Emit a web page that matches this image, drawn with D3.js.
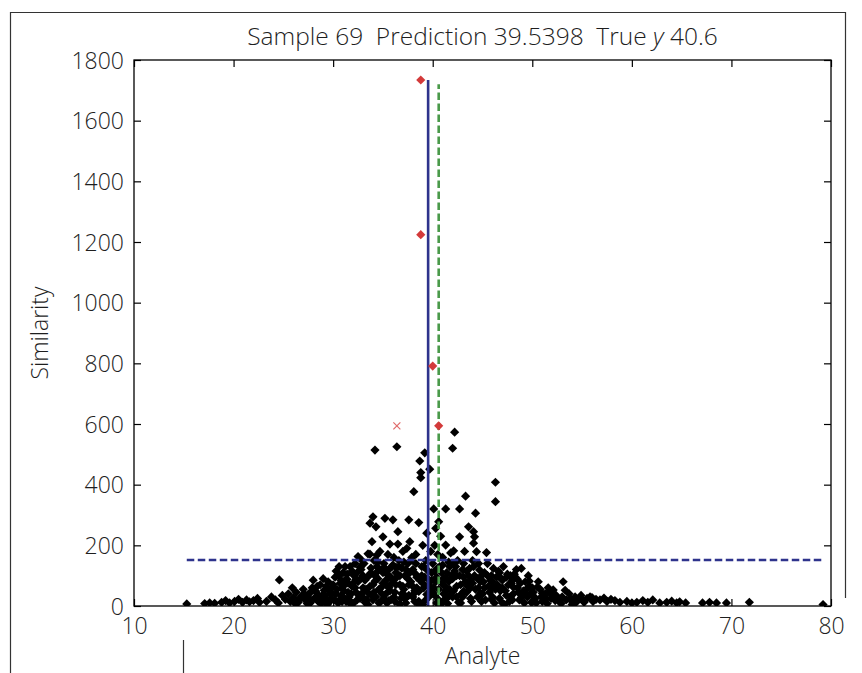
<!DOCTYPE html>
<html><head><meta charset="utf-8">
<script src="https://cdn.jsdelivr.net/npm/d3@7"></script>
<style>
body{margin:0;background:#fff;}
text{font-family:"Open Sans","Noto Sans",sans-serif;fill:#1e1e1e;font-weight:300;}
</style></head>
<body><svg id="c" width="862" height="673"></svg>
<script>
// ---- data ----
const xTicks = [10,20,30,40,50,60,70,80];
const yTicks = [0,200,400,600,800,1000,1200,1400,1600,1800];
const titleText = "Sample 69  Prediction 39.5398  True ";
const titleY = "y";
const titleRest = " 40.6";
const xLabel = "Analyte";
const yLabel = "Similarity";
const prediction = 39.5398;
const trueY = 40.6;
const threshold = 152;
const greenTop = 1720;

// black points [analyte, similarity]
const leftTail = [[15.3,7],[17.1,8],[17.6,10],[18.1,9],[18.8,12],[19.2,18],[19.6,10],[20.1,15],[20.5,22],[20.9,12],[21.3,20],[21.6,14],[22.0,18],[22.4,25],[22.6,12],[23.3,15],[23.8,30],[24.2,20],[24.6,86],[24.5,10],[24.9,35],[25.2,22]];
const band25 = [[25.5,40],[25.7,15],[26.0,28],[26.3,45],[26.5,12],[26.8,32],[27.0,55],[27.2,20],[27.5,38],[27.7,10],[27.9,60],[28.1,25],[28.3,45],[28.5,15],[28.7,70],[28.9,35],[29.1,52],[29.3,20],[29.5,80],[29.7,40],[29.9,62],[26.2,8],[27.4,8],[28.8,8],[29.6,12],[25.9,60],[28.0,85]];
const band30 = [[30.1,20],[30.2,95],[30.4,55],[30.5,10],[30.7,75],[30.8,35],[31.0,110],[31.1,50],[31.3,15],[31.4,88],[31.6,30],[31.7,130],[31.9,65],[32.0,8],[32.1,100],[32.3,45],[32.5,163],[32.5,80],[32.7,25],[32.8,120],[33.0,60],[33.1,140],[33.2,12],[33.4,95],[33.5,172],[33.6,40],[33.7,273],[33.7,171],[33.8,110],[33.9,212],[34.0,294],[34.0,70],[34.1,150],[34.2,514],[34.3,261],[34.3,30],[34.4,168],[34.4,130],[34.5,90],[34.6,55],[34.7,180],[34.8,15],[34.9,120],[35.0,228],[35.0,75],[30.6,130],[31.2,85],[31.8,5],[32.2,140],[32.9,95],[33.3,55],[34.2,100],[30.9,60],[31.5,45],[32.4,20],[33.9,35]];
const band35 = [[35.1,140],[35.2,289],[35.3,40],[35.4,105],[35.5,170],[35.6,60],[35.7,204],[35.8,20],[35.9,130],[36.0,284],[36.0,85],[36.1,160],[36.2,45],[36.3,110],[36.4,525],[36.5,245],[36.5,204],[36.6,150],[36.7,70],[36.8,25],[36.9,125],[37.0,180],[37.1,55],[37.2,100],[37.4,190],[37.5,140],[37.6,284],[37.6,35],[37.7,212],[37.8,80],[37.9,160],[38.0,120],[38.1,377],[38.2,50],[38.3,170],[38.4,95],[38.6,275],[38.6,15],[38.7,478],[38.8,440],[38.8,423],[38.9,130],[39.0,200],[39.1,60],[39.2,505],[39.3,150],[39.4,240],[39.5,90],[39.6,30],[39.7,451],[39.8,180],[39.9,110],[35.4,10],[36.2,15],[37.3,10],[38.5,8],[39.3,20],[35.8,95],[37.0,65],[38.1,40],[39.0,75],[36.6,130],[37.8,150],[35.6,120]];
const band40 = [[40.0,140],[40.1,320],[40.1,60],[40.2,200],[40.3,256],[40.4,95],[40.5,170],[40.6,278],[40.6,20],[40.7,130],[40.8,230],[40.9,75],[41.0,160],[41.1,40],[41.3,320],[41.3,201],[41.4,110],[41.6,145],[41.7,55],[41.8,175],[42.0,520],[42.0,90],[42.1,182],[42.2,573],[42.3,130],[42.4,30],[42.5,150],[42.7,320],[42.7,228],[42.8,70],[43.0,120],[43.2,180],[43.3,362],[43.4,45],[43.6,261],[43.7,124],[43.8,85],[44.0,150],[44.1,245],[44.2,228],[44.1,207],[44.3,306],[44.4,179],[44.6,60],[44.7,119],[44.9,100],[40.4,10],[41.5,8],[42.6,12],[43.9,15],[41.2,65],[42.9,40],[44.5,30],[43.1,95],[40.9,110],[41.9,100]];
const band45 = [[45.1,80],[45.4,176],[45.5,140],[45.7,45],[45.9,100],[46.1,124],[46.3,408],[46.3,344],[46.5,70],[46.7,25],[46.9,90],[47.1,130],[47.3,50],[47.5,105],[47.7,15],[47.9,75],[48.1,40],[48.3,95],[48.5,60],[48.7,20],[48.9,124],[49.1,50],[49.3,80],[49.5,30],[49.7,65],[49.9,12],[45.3,20],[46.0,60],[47.0,10],[48.0,85],[49.0,35],[46.6,115],[47.8,100]];
const band50 = [[50.1,45],[50.3,25],[50.6,80],[50.8,55],[51.0,15],[51.3,40],[51.6,60],[51.9,25],[52.1,53],[52.4,35],[52.7,15],[53.1,80],[53.0,30],[53.4,20],[53.7,40],[54.0,15],[54.3,30],[54.6,20],[54.9,35],[55.2,12],[55.5,25],[55.8,30],[56.1,15],[56.4,22],[50.4,10],[51.5,8],[52.9,8],[54.0,5]];
const rightTail = [[56.8,20],[57.2,26],[57.5,15],[57.9,22],[58.3,18],[58.8,12],[59.5,15],[60.0,10],[60.5,12],[61.1,18],[61.6,12],[62.1,20],[62.8,10],[63.5,12],[64.0,16],[64.5,10],[64.8,14],[65.4,10],[67.1,10],[67.8,12],[68.5,10],[69.5,10],[71.8,12],[79.2,5]];
const dense = [[28.2,50],[28.6,30],[29.0,90],[29.4,5],[29.8,25],[30.0,70],[30.3,40],[30.6,100],[30.9,15],[31.2,130],[31.5,75],[31.9,115],[32.2,60],[32.6,35],[32.9,150],[33.2,85],[33.5,5],[33.8,125],[34.1,45],[34.5,145],[34.8,60],[35.1,25],[35.3,85],[35.7,50],[36.0,135],[36.3,70],[36.7,5],[37.1,145],[37.4,30],[37.7,110],[38.0,65],[38.3,140],[38.7,85],[39.0,5],[39.4,120],[39.8,50],[40.2,35],[40.5,125],[40.8,5],[41.1,90],[41.4,25],[41.7,130],[42.1,50],[42.4,100],[42.8,10],[43.1,140],[43.5,65],[43.8,25],[44.2,100],[44.6,140],[44.9,15],[45.2,110],[45.6,65],[46.0,30],[46.4,95],[46.8,50],[47.2,5],[47.6,70],[48.0,20],[48.4,120],[48.8,75],[49.2,10],[49.6,100],[50.0,60],
[29.2,35],[30.8,85],[31.6,20],[32.4,110],[33.1,25],[33.6,100],[34.6,10],[35.5,65],[36.4,95],[36.9,40],[37.5,90],[38.2,15],[38.9,100],[39.6,70],[40.3,80],[41.0,15],[41.6,80],[42.2,115],[43.0,30],[43.6,100],[44.3,55],[45.0,40],[45.8,85],[46.2,10],[47.4,35],[48.6,45],[49.4,55],[50.2,30],[50.9,30],[51.8,50],[52.6,25],
[27.6,25],[28.4,65],[29.6,50],[31.0,30],[32.0,75],[33.0,45],[34.0,20],[35.0,110],[36.1,30],[37.2,25],[38.4,60],[39.2,95],[40.0,45],[41.3,50],[42.0,30],[43.3,80],[44.0,75],[44.8,80],[46.0,80],[47.0,60],[48.2,105],[49.8,40],[51.2,20],[53.8,25]];
const fill = [[26.6,22],[27.1,40],[27.8,48],[28.9,18],[29.3,65],[29.9,42],[30.3,115],[30.7,22],[31.1,68],[31.4,105],[31.8,40],[32.3,88],[32.7,128],[33.0,100],[33.4,20],[33.7,65],[34.2,82],[34.5,115],[34.9,40],[35.2,125],[35.6,18],[35.9,75],[36.3,128],[36.7,100],[37.0,40],[37.3,120],[37.6,70],[38.0,30],[38.3,105],[38.6,48],[39.1,130],[39.4,38],[39.9,85],[40.2,115],[40.6,55],[41.0,135],[41.3,92],[41.7,35],[42.0,140],[42.4,65],[42.7,100],[43.1,48],[43.4,115],[43.8,60],[44.1,130],[44.5,90],[44.8,42],[45.2,60],[45.5,100],[45.9,22],[46.3,55],[46.7,110],[47.0,85],[47.4,95],[47.8,30],[48.1,62],[48.5,88],[48.9,28],[49.3,42],[49.7,82],[50.1,18],[50.5,62],[51.0,42],[51.4,25],[51.9,38],[52.3,18],[53.3,52],[54.4,12],[55.0,22],[56.0,28]];
const blackPoints = [].concat(leftTail, band25, band30, band35, band40, band45, band50, rightTail, dense, fill);

// red (nearest neighbours) diamonds and red cross
const redPoints = [[38.8,1734],[38.8,1224],[40.0,791],[40.6,594]];
const redCross = [[36.4,594]];

// ---- layout ----
const svg = d3.select("#c");
const L=134, R=831, T=60, B=606;
const x = d3.scaleLinear().domain([10,80]).range([L,R]);
const y = d3.scaleLinear().domain([0,1800]).range([B,T]);

svg.append("rect").attr("width",862).attr("height",673).attr("fill","#fff");

// outer page border fragments
const bc="#333";
svg.append("line").attr("x1",10).attr("x2",846).attr("y1",12.5).attr("y2",12.5).attr("stroke",bc).attr("stroke-width",1.2);
svg.append("line").attr("x1",10.5).attr("x2",10.5).attr("y1",12).attr("y2",673).attr("stroke",bc).attr("stroke-width",1.2);
svg.append("line").attr("x1",845.5).attr("x2",845.5).attr("y1",12).attr("y2",598).attr("stroke",bc).attr("stroke-width",1.2);
svg.append("line").attr("x1",183.5).attr("x2",183.5).attr("y1",640).attr("y2",673).attr("stroke",bc).attr("stroke-width",1.2);

const clip = svg.append("defs").append("clipPath").attr("id","pc");
clip.append("rect").attr("x",L).attr("y",T-10).attr("width",R-L+10).attr("height",B-T+10);

const g = svg.append("g").attr("clip-path","url(#pc)");

// black diamonds
const dia = "M0,-4.6L4.6,0L0,4.6L-4.6,0Z";
g.selectAll("path.bp").data(blackPoints).join("path").attr("class","bp")
  .attr("d",dia).attr("transform",d=>`translate(${x(d[0])},${y(d[1])})`)
  .attr("fill","#000");

// horizontal threshold
const xmin = d3.min(blackPoints,d=>d[0]), xmax = d3.max(blackPoints,d=>d[0]);
svg.append("line").attr("x1",x(xmin)).attr("x2",x(xmax)).attr("y1",y(threshold)).attr("y2",y(threshold))
  .attr("stroke","#2e338c").attr("stroke-width",2.5).attr("stroke-dasharray","7.5,3.5");

// prediction line
const ymax = d3.max(redPoints,d=>d[1]);
svg.append("line").attr("x1",x(prediction)).attr("x2",x(prediction)).attr("y1",y(0)).attr("y2",y(ymax))
  .attr("stroke","#2e338c").attr("stroke-width",2.6);
// true line
svg.append("line").attr("x1",x(trueY)).attr("x2",x(trueY)).attr("y1",y(0)).attr("y2",y(greenTop))
  .attr("stroke","#4a9a4a").attr("stroke-width",2.6).attr("stroke-dasharray","7.5,3.5");

// red diamonds
svg.selectAll("path.rp").data(redPoints).join("path").attr("class","rp")
  .attr("d",dia).attr("transform",d=>`translate(${x(d[0])},${y(d[1])})`)
  .attr("fill","#d33a3a");
// red cross
svg.selectAll("path.rx").data(redCross).join("path").attr("class","rx")
  .attr("d","M-3.5,-3.5L3.5,3.5M-3.5,3.5L3.5,-3.5").attr("transform",d=>`translate(${x(d[0])},${y(d[1])})`)
  .attr("stroke","#e06a6a").attr("stroke-width",1.2).attr("fill","none");

// axes with inward ticks
const tl=7, fs=23;
const ax = svg.append("g").attr("transform",`translate(0,${B})`)
  .call(d3.axisBottom(x).tickValues(xTicks).tickSize(-tl).tickPadding(14).tickFormat(d3.format("d")));
const ay = svg.append("g").attr("transform",`translate(${L},0)`)
  .call(d3.axisLeft(y).tickValues(yTicks).tickSize(-tl).tickPadding(10).tickFormat(d3.format("d")));
const at = svg.append("g").attr("transform",`translate(0,${T})`)
  .call(d3.axisTop(x).tickValues(xTicks).tickSize(-tl).tickFormat(""));
const ar = svg.append("g").attr("transform",`translate(${R},0)`)
  .call(d3.axisRight(y).tickValues(yTicks).tickSize(-tl).tickFormat(""));
[ax,ay,at,ar].forEach(a=>{a.select(".domain").remove();a.selectAll("line").attr("stroke","#000").attr("stroke-width",1.2);});
[ax,ay].forEach(a=>a.selectAll("text").attr("font-size",fs).attr("font-family","Open Sans").attr("font-weight",300).attr("fill","#1e1e1e"));
ay.selectAll("text").attr("dy","0.36em");
ax.selectAll("text").attr("dy","0.62em");

svg.append("rect").attr("x",L).attr("y",T).attr("width",R-L).attr("height",B-T)
  .attr("fill","none").attr("stroke","#000").attr("stroke-width",1.3);

// labels
const t = svg.append("text").attr("x",(L+R)/2).attr("y",45).attr("text-anchor","middle")
  .attr("font-size",24.5).style("white-space","pre");
t.append("tspan").text(titleText);
t.append("tspan").attr("font-style","italic").text(titleY);
t.append("tspan").text(titleRest);

svg.append("text").attr("x",(L+R)/2).attr("y",664).attr("text-anchor","middle").attr("font-size",fs).text(xLabel);
svg.append("text").attr("transform",`translate(48,${(T+B)/2}) rotate(-90)`).attr("text-anchor","middle").attr("font-size",fs).text(yLabel);
</script></body></html>
